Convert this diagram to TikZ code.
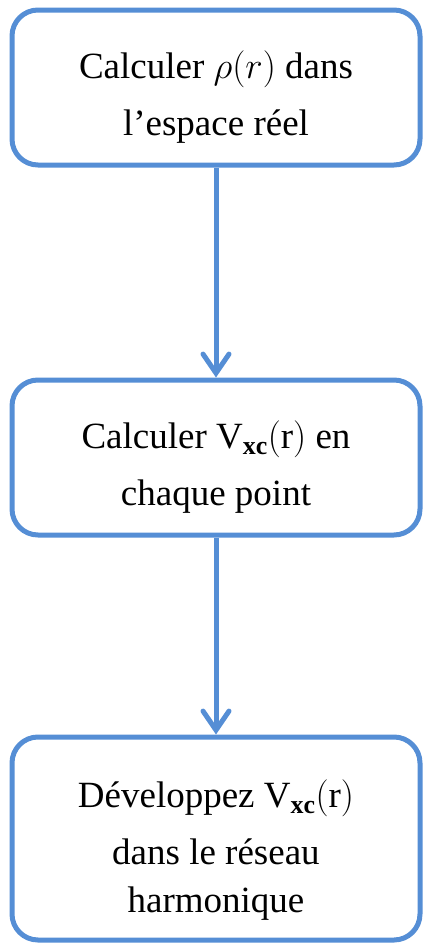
\documentclass[tikz,border=0pt]{standalone}
\usepackage{fix-cm}
\usepackage{fontspec}
\setmainfont{Liberation Serif}
\usepackage{tikz}
\usetikzlibrary{arrows.meta, positioning}
\definecolor{flowblue}{RGB}{85,142,213}
\tikzset{
  stepbox/.style={rectangle, rounded corners=26pt, draw=flowblue, line width=5pt, minimum width=408pt},
  steptext/.style={align=center, font=\fontsize{37}{48}\selectfont},
  steparr/.style={draw=flowblue, line width=5pt, -{Straight Barb[length=19pt, width=26pt, line cap=round]}},
}

\begin{document}
\begin{tikzpicture}[x=1pt, y=-1pt]
\useasboundingbox (0,0) rectangle (425,945);
\node[stepbox, minimum height=155pt] (b1) at (216,87.5) {};
\node[stepbox, minimum height=155pt, below=210pt of b1] (b2) {};
\node[stepbox, minimum height=203pt, below=197pt of b2] (b3) {};
\node[steptext] (t1) at ([yshift=-10pt]b1.center) {Calculer $\rho(r)$ dans\\[9pt]l’espace réel};
\node[steptext] (t2) at ([yshift=-10pt]b2.center) {Calculer $\mathrm{V}_{\mathbf{xc}}(\mathrm{r})$ en\\[9pt]chaque point};
\node[steptext] (t3) at ([yshift=-12pt]b3.center) {Développez $\mathrm{V}_{\mathbf{xc}}(\mathrm{r})$\\[9pt]dans le réseau\\harmonique};
\foreach \x/\y in {b1/b2,b2/b3} \draw[steparr] (\x) -- (\y);
\end{tikzpicture}
\end{document}
